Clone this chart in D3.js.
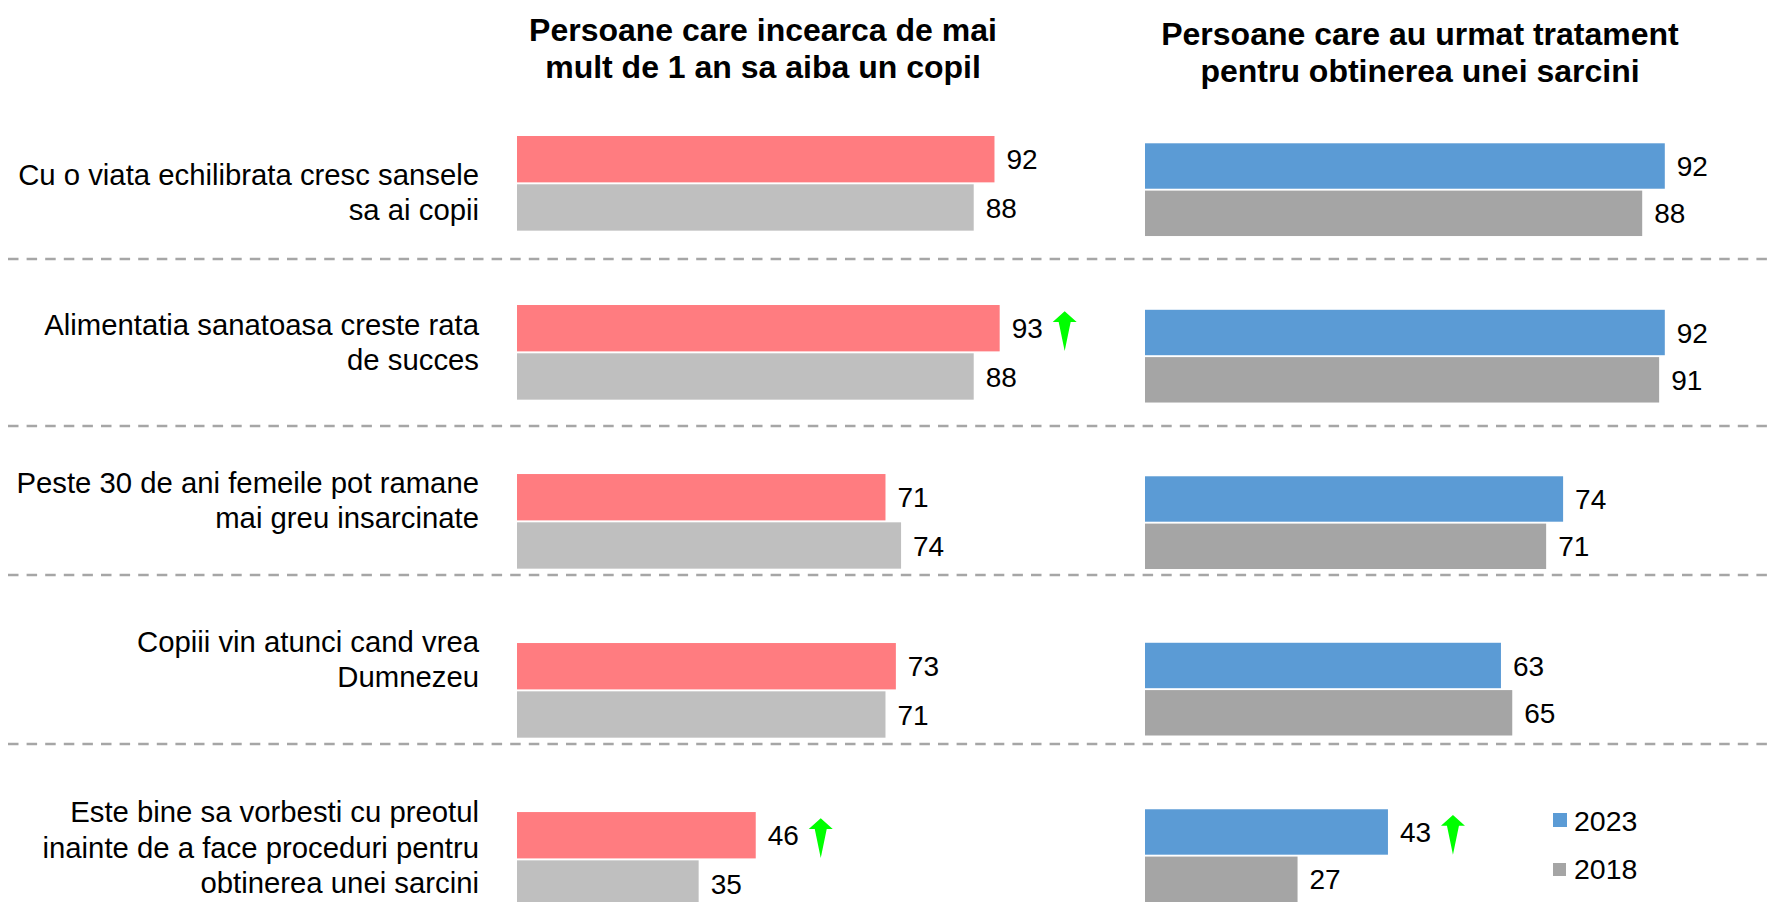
<!DOCTYPE html>
<html>
<head>
<meta charset="utf-8">
<script src="https://cdn.jsdelivr.net/npm/d3@7"></script>
<style>
  html, body { margin: 0; padding: 0; background: #ffffff; }
  svg { display: block; font-family: "Liberation Sans", Arial, sans-serif; }
</style>
</head>
<body>
<svg id="chart" width="1767" height="902"></svg>
<script>
// Statements shown on the left, each split into its printed lines
const categories = [
  ["Cu o viata echilibrata cresc sansele", "sa ai copii"],
  ["Alimentatia sanatoasa creste rata", "de succes"],
  ["Peste 30 de ani femeile pot ramane", "mai greu insarcinate"],
  ["Copiii vin atunci cand vrea", "Dumnezeu"],
  ["Este bine sa vorbesti cu preotul", "inainte de a face proceduri pentru", "obtinerea unei sarcini"]
];

const years = ["2023", "2018"];

// Panel 1: people trying for more than a year to have a child (%)
const trying2023 = [92, 93, 71, 73, 46];
const trying2018 = [88, 88, 74, 71, 35];
const tryingUp   = [false, true, false, false, true];

// Panel 2: people who followed fertility treatment (%)
const treated2023 = [92, 92, 74, 63, 43];
const treated2018 = [88, 91, 71, 65, 27];
const treatedUp   = [false, false, false, false, true];

const panelTitles = [
  ["Persoane care incearca de mai", "mult de 1 an sa aiba un copil"],
  ["Persoane care au urmat tratament", "pentru obtinerea unei sarcini"]
];

const svg = d3.select("#chart");
const idx = d3.range(categories.length);

// Section boundaries of the dashed separators
const sectionEdges = [126, 259, 426, 575, 744, 952];

const panels = [
  {
    title: panelTitles[0], titleX: 763, titleY: 41,
    a: trying2023, b: trying2018, up: tryingUp,
    colors: { "2023": "#ff7c80", "2018": "#bfbfbf" },
    x: d3.scaleLinear().domain([0, 100]).range([517, 1036]),
    y: d3.scaleBand().domain(idx).range([136, 906.7]).paddingInner(0.44).paddingOuter(0)
  },
  {
    title: panelTitles[1], titleX: 1420, titleY: 44.5,
    a: treated2023, b: treated2018, up: treatedUp,
    colors: { "2023": "#5b9bd5", "2018": "#a5a5a5" },
    x: d3.scaleLinear().domain([0, 100]).range([1145, 1710]),
    y: d3.scaleBand().domain(idx).range([143.3, 902]).paddingInner(0.443).paddingOuter(0)
  }
];

// Dashed separators between statements
svg.append("g").selectAll("line")
  .data(sectionEdges.slice(1, -1))
  .join("line")
  .attr("x1", 8).attr("x2", 1767)
  .attr("y1", d => d).attr("y2", d => d)
  .attr("stroke", "#a6a6a6")
  .attr("stroke-width", 2.5)
  .attr("stroke-dasharray", "10.5,8.1");

// Statement labels, right aligned and centred in their section
const lineGap = 35.5, labelSize = 29.3;
const labelG = svg.append("g")
  .attr("font-size", labelSize)
  .attr("fill", "#000")
  .attr("text-anchor", "end");
categories.forEach((lines, i) => {
  const mid = (sectionEdges[i] + sectionEdges[i + 1]) / 2;
  const first = mid - (lines.length - 1) * lineGap / 2 + labelSize * 0.34;
  const t = labelG.append("text").attr("x", 479).attr("y", first);
  lines.forEach((ln, k) => {
    t.append("tspan").attr("x", 479).attr("y", first + k * lineGap).text(ln);
  });
});

// Up arrow marking a significant increase
const arrowPath = "M0,-20 L12,-9.3 L6,-9.3 L0,19.7 L-6,-9.3 L-12,-9.3 Z";

panels.forEach(p => {
  const g = svg.append("g");

  // panel heading
  const tt = g.append("text")
    .attr("text-anchor", "middle")
    .attr("font-weight", "bold")
    .attr("font-size", 32)
    .attr("fill", "#000");
  p.title.forEach((ln, k) => {
    tt.append("tspan").attr("x", p.titleX).attr("y", p.titleY + k * 37).text(ln);
  });

  const inner = d3.scaleBand().domain(years).range([0, p.y.bandwidth()]).paddingInner(0.04);

  const rows = idx.map(i => ({ i, "2023": p.a[i], "2018": p.b[i], up: p.up[i] }));

  const rowG = g.selectAll("g.row")
    .data(rows)
    .join("g")
    .attr("class", "row")
    .attr("transform", d => `translate(0,${p.y(d.i)})`);

  const bars = rowG.selectAll("g.bar")
    .data(d => years.map(yr => ({ yr, v: d[yr], up: d.up && yr === "2023" })))
    .join("g")
    .attr("class", "bar");

  bars.append("rect")
    .attr("x", p.x(0))
    .attr("y", d => inner(d.yr))
    .attr("width", d => p.x(d.v) - p.x(0))
    .attr("height", inner.bandwidth())
    .attr("fill", d => p.colors[d.yr]);

  bars.append("text")
    .attr("x", d => p.x(d.v) + 12)
    .attr("y", d => inner(d.yr) + inner.bandwidth() / 2)
    .attr("dy", "0.36em")
    .attr("font-size", 28)
    .attr("fill", "#000")
    .text(d => d.v);

  bars.filter(d => d.up).append("path")
    .attr("d", arrowPath)
    .attr("transform", d => `translate(${p.x(d.v) + 65},${inner(d.yr) + inner.bandwidth() / 2 + 3})`)
    .attr("fill", "#00ff00");
});

// Legend
const legend = svg.append("g").attr("font-size", 28.5).attr("fill", "#000");
const legendRows = [
  { yr: "2023", color: "#5b9bd5", size: 14, y: 813, base: 831 },
  { yr: "2018", color: "#a5a5a5", size: 13, y: 863, base: 879 }
];
legendRows.forEach(r => {
  legend.append("rect").attr("x", 1553).attr("y", r.y)
    .attr("width", r.size).attr("height", r.size).attr("fill", r.color);
  legend.append("text").attr("x", 1574).attr("y", r.base).text(r.yr);
});
</script>
</body>
</html>
